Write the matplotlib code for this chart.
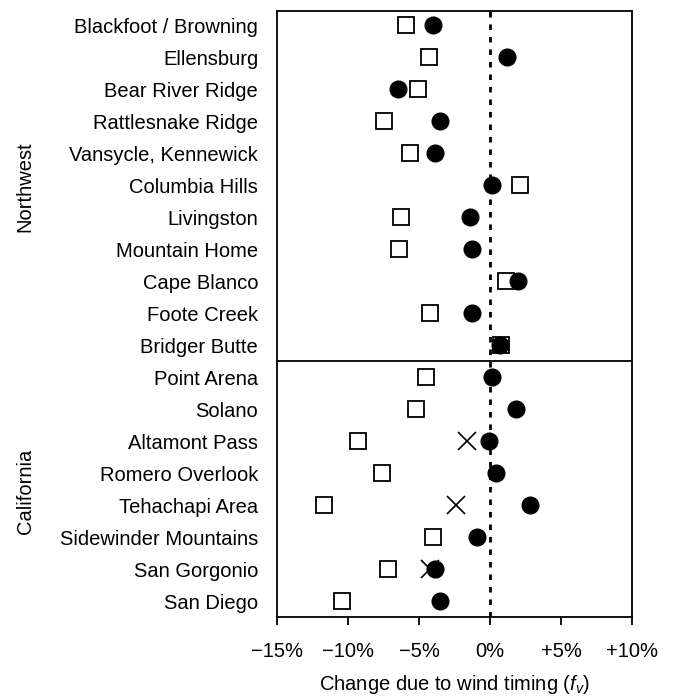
import numpy as np
import matplotlib.pyplot as plt

plt.rcParams['font.family'] = ['Liberation Sans', 'DejaVu Sans']
plt.rcParams['mathtext.fontset'] = 'custom'
plt.rcParams['mathtext.it'] = 'Liberation Sans:italic'
plt.rcParams['mathtext.rm'] = 'Liberation Sans'

# Sites, top to bottom
sites = ['Blackfoot / Browning', 'Ellensburg', 'Bear River Ridge', 'Rattlesnake Ridge',
         'Vansycle, Kennewick', 'Columbia Hills', 'Livingston', 'Mountain Home',
         'Cape Blanco', 'Foote Creek', 'Bridger Butte',
         'Point Arena', 'Solano', 'Altamont Pass', 'Romero Overlook', 'Tehachapi Area',
         'Sidewinder Mountains', 'San Gorgonio', 'San Diego']

# Values in %
squares = [-5.9, -4.3, -5.1, -7.5, -5.6, 2.1, -6.3, -6.4, 1.1, -4.2, 0.75,
           -4.5, -5.2, -9.3, -7.6, -11.7, -4.0, -7.2, -10.4]
circles = [-4.0, 1.2, -6.5, -3.5, -3.9, 0.15, -1.4, -1.3, 1.95, -1.3, 0.7,
           0.15, 1.85, -0.1, 0.4, 2.8, -0.9, -3.85, -3.5]
cross_sites = ['Altamont Pass', 'Tehachapi Area', 'San Gorgonio']
crosses = [-1.65, -2.4, -4.2]

n_northwest = 11
fs = 14.5

y = np.arange(len(sites))
y_cross = [sites.index(s) for s in cross_sites]

fig = plt.figure(figsize=(6.73, 6.98), dpi=100)
ax = fig.add_axes([277 / 673, 1 - 617 / 698, 355 / 673, 606 / 698])

ax.axvline(0, color='black', lw=2, ls=(0, (2, 2.5)), zorder=1)
ax.axhline(n_northwest - 0.5, color='black', lw=1.3, zorder=1)

ax.plot(squares, y, ls='none', marker='s', ms=11.5, mfc='white', mec='black', mew=1.3, zorder=2)
ax.plot(crosses, y_cross, ls='none', marker='x', ms=12.5, mec='black', mew=1.2, zorder=3)
ax.plot(circles, y, ls='none', marker='o', ms=12, mfc='black', mec='black', zorder=4)

ax.set_xlim(-15, 10)
ax.set_ylim(len(sites) - 0.5, -0.45)
ax.set_xticks([-15, -10, -5, 0, 5, 10])
ax.set_xticklabels(['\u221215%', '\u221210%', '\u22125%', '0%', '+5%', '+10%'], fontsize=fs)
ax.set_yticks(y)
ax.set_yticklabels(sites, fontsize=fs)
ax.tick_params(axis='y', length=0, pad=13.5)
ax.tick_params(axis='x', length=6, width=1.3, direction='out', pad=12)
for sp in ax.spines.values():
    sp.set_linewidth(1.3)

ax.set_xlabel(r'Change due to wind timing ($f_v$)', fontsize=fs, labelpad=9)

fig.text(25 / 673, 1 - 187 / 698, 'Northwest', rotation=90, ha='center', va='center', fontsize=fs)
fig.text(25 / 673, 1 - 491 / 698, 'California', rotation=90, ha='center', va='center', fontsize=fs)

fig.savefig('out.png', dpi=100)
